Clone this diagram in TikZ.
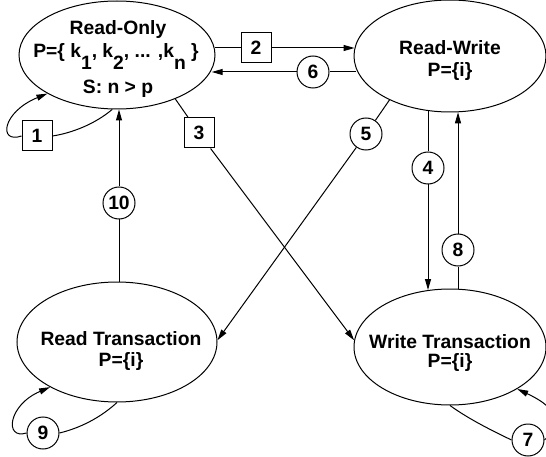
\documentclass[tikz,border=0pt]{standalone}
\usepackage{fontspec}
\setmainfont{Liberation Sans}
\usetikzlibrary{shapes.geometric,arrows.meta}

\begin{document}
\begin{tikzpicture}[x=1pt,y=-1pt,
  every node/.style={font=\fontsize{19.3}{22}\selectfont\bfseries},
  state/.style={draw,ellipse,line width=1pt,inner sep=0pt},
  lbl/.style={anchor=base,inner sep=0pt},
  sqbox/.style={draw,rectangle,line width=1pt,minimum width=30pt,minimum height=30pt,inner sep=0pt},
  rnd/.style={draw,circle,line width=1pt,minimum size=32pt,inner sep=0pt},
  conn/.style={line width=1pt},
  arr/.style={conn,-{Triangle[length=11pt,width=6pt]}}]

\useasboundingbox (0,0) rectangle (546,457);
\clip (0,0) rectangle (546,457);

% states
\node[state,minimum width=196pt,minimum height=108pt] (ro) at (117,55) {};
\node[state,minimum width=192pt,minimum height=112pt] (rw) at (450,56) {};
\node[state,minimum width=200pt,minimum height=120pt] (rt) at (117,342) {};
\node[state,minimum width=192pt,minimum height=116pt] (wt) at (450,347) {};

% state texts
\node[lbl] (ro1) at (118,35) {Read-Only};
\node[lbl] (ro2) at (116,58) {P=\{ k\raisebox{-12pt}{1}, k\raisebox{-12pt}{2}, ... ,k\raisebox{-12pt}{n} \}};
\node[lbl] (ro3) at (118,94) {S: n > p};
\node[lbl] (rw1) at (450,55) {Read-Write};
\node[lbl] (rw2) at (450,77) {P=\{i\}};
\node[lbl] (rt1) at (121,345) {Read Transaction};
\node[lbl] (rt2) at (121,366) {P=\{i\}};
\node[lbl] (wt1) at (450,348) {Write Transaction};
\node[lbl] (wt2) at (450,367) {P=\{i\}};

% transition markers
\node[sqbox] (b1) at (37,136) {1};
\node[sqbox] (b2) at (256,48) {2};
\node[sqbox] (b3) at (199,133) {3};
\node[rnd] (c4) at (428,168) {4};
\node[rnd] (c5) at (366,134) {5};
\node[rnd] (c6) at (313,72) {6};
\node[rnd] (c7) at (528,440) {7};
\node[rnd] (c8) at (458,250) {8};
\node[rnd] (c9) at (43,433) {9};
\node[rnd] (c10) at (119,203) {10};

% 1: Read-Only to itself
\draw[conn] (ro.-95) .. controls (95,124) and (72,133) .. (b1.east);
\draw[arr] (b1.west) .. controls (-2,144) and (2,112) .. (ro.-151);

% 2 and 6: between Read-Only and Read-Write
\draw[conn] (ro.4 |- b2) -- (b2);
\draw[arr] (b2) -- (rw.175 |- b2);
\draw[conn] (rw.188.6 |- c6) -- (c6);
\draw[arr] (c6) -- (ro.-9 |- c6);

% 3: Read-Only to Write Transaction
\draw[conn] (ro.-37) -- (b3);
\draw[arr] (b3) -- (wt.176);

% 5: Read-Write to Read Transaction
\draw[conn] (rw.-144) -- (c5);
\draw[arr] (c5) -- (rt.1);

% 4 and 8: between Read-Write and Write Transaction
\draw[conn] (c4 |- rw.-112) -- (c4);
\draw[arr] (c4) -- (c4 |- wt.111);
\draw[conn] (c8 |- wt.82) -- (c8);
\draw[arr] (c8) -- (c8 |- rw.-82);

% 10: Read Transaction to Read-Only
\draw[conn] (rt.north -| c10) -- (c10);
\draw[arr] (c10) -- (c10 |- ro.south);

% 9: Read Transaction to itself
\draw[conn] (rt.-90) .. controls (100,418) and (80,428) .. (c9.east);
\draw[arr] (c9.west) .. controls (4,440) and (8,405) .. (rt.-146);

% 7: Write Transaction to itself
\draw[conn] (wt.-90) .. controls (470,420) and (495,432) .. (c7.west);
\draw[arr] (c7.east) .. controls (560,425) and (562,410) .. (wt.-32);
\end{tikzpicture}
\end{document}
